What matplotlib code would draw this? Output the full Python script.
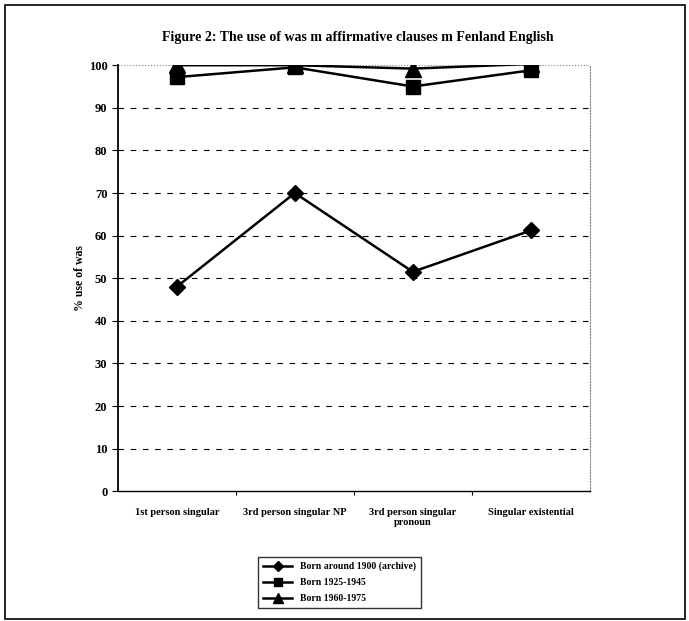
import matplotlib.pyplot as plt
from matplotlib.patches import Rectangle

categories = ["1st person singular", "3rd person singular NP",
              "3rd person singular\npronoun", "Singular existential"]
born_1900 = [48, 70, 51.5, 61.2]
born_1925 = [97.2, 99.5, 95, 98.8]
born_1960 = [100, 100, 99.2, 100.3]
series_labels = ["Born around 1900 (archive)", "Born 1925-1945", "Born 1960-1975"]
yticks = list(range(0, 101, 10))

plt.rcParams['font.family'] = ['Liberation Serif', 'DejaVu Serif']

fig = plt.figure(figsize=(6.89, 6.21), dpi=100)
ax = fig.add_axes([0.171, 0.209, 0.685, 0.686])

# outer frame around the whole chart
fig.patches.append(Rectangle((5 / 689, 2 / 621), 680 / 689, 614 / 621,
                             transform=fig.transFigure, fill=False,
                             edgecolor='black', linewidth=1.2))

x = range(len(categories))
ax.plot(x, born_1900, color='black', lw=1.8, marker='D', markersize=8,
        label=series_labels[0])
ax.plot(x, born_1925, color='black', lw=1.8, marker='s', markersize=10,
        label=series_labels[1])
ax.plot(x, born_1960, color='black', lw=1.8, marker='^', markersize=11,
        label=series_labels[2])

ax.set_xlim(-0.5, len(categories) - 0.5)
ax.set_ylim(0, 100)
ax.set_yticks(yticks)
ax.set_yticklabels([str(t) for t in yticks], fontweight='bold', fontsize=9)
ax.set_xticks([i + 0.5 for i in range(len(categories) - 1)], minor=False)
ax.set_xticklabels([])
ax.set_xticks(list(x), minor=True)
ax.set_xticklabels(categories, minor=True, fontweight='bold', fontsize=7.5)
ax.tick_params(axis='x', which='minor', length=0, pad=12)
ax.tick_params(axis='x', which='major', length=3, direction='out')
ax.tick_params(axis='y', length=4, direction='out')

for t in yticks[1:-1]:
    ax.axhline(t, color='black', lw=0.8, ls=(0, (5, 6)), zorder=0)
ax.axhline(100, color='gray', lw=0.8, ls=':', zorder=0)

ax.spines['top'].set_visible(False)
ax.spines['right'].set_linestyle(':')
ax.spines['right'].set_color('gray')
ax.spines['left'].set_linewidth(1.3)
ax.spines['bottom'].set_linewidth(1.0)

ax.set_ylabel('% use of was', fontweight='bold', fontsize=8.5, labelpad=2)
fig.text(0.52, 0.94, 'Figure 2: The use of was m affirmative clauses m Fenland English',
         ha='center', va='center', fontsize=10, fontweight='bold')

leg = ax.legend(loc='upper center', bbox_to_anchor=(0.47, -0.143), ncol=1,
                frameon=True, fancybox=False, edgecolor='black',
                prop={'weight': 'bold', 'size': 7}, handlelength=3,
                markerscale=0.6, borderpad=0.5, labelspacing=0.7)
leg.get_frame().set_linewidth(1.0)

plt.savefig('out.png', dpi=100)
